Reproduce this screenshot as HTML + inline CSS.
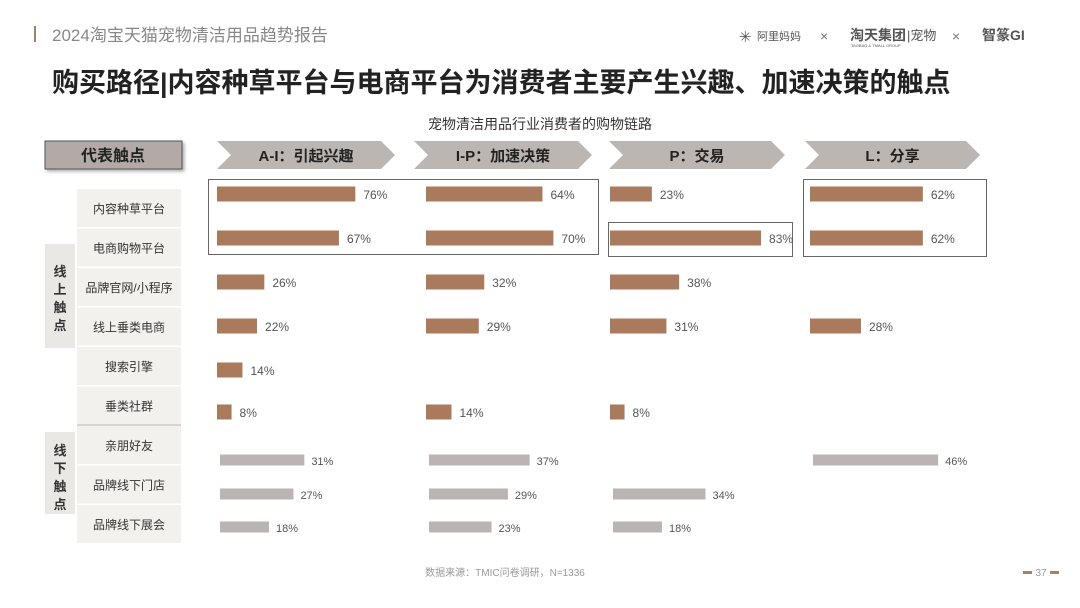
<!DOCTYPE html>
<html><head><meta charset="utf-8">
<style>
body{margin:0;background:#fff;}
svg{display:block;font-family:"Liberation Sans","Noto Sans CJK SC",sans-serif;}
</style></head>
<body>
<svg id="chart" width="1080" height="608" viewBox="0 0 1080 608">
  <defs>
    <filter id="sh" x="-10%" y="-20%" width="130%" height="160%"><feDropShadow dx="2" dy="2" stdDeviation="1.5" flood-color="#777" flood-opacity="0.6"/></filter>
  </defs>
  <rect x="34" y="26" width="2" height="16" fill="#a7806a"/>
  <text x="52" y="41" font-size="17" fill="#888">2024淘宝天猫宠物清洁用品趋势报告</text>
  <g fill="#555">
    <text x="739" y="42" font-size="15" fill="#555">✳</text>
    <text x="757" y="40" font-size="11">阿里妈妈</text>
    <text x="820" y="41" font-size="14" fill="#777">×</text>
    <text x="850" y="40" font-size="14" font-weight="bold">淘天集团</text>
    <text x="851" y="47" font-size="4">TAOBAO &amp; TMALL GROUP</text>
    <text x="907" y="40" font-size="13">|宠物</text>
    <text x="952" y="41" font-size="14" fill="#777">×</text>
    <text x="982" y="40" font-size="14" font-weight="bold">智篆GI</text>
  </g>
  <text x="52" y="92" font-size="27" font-weight="bold" fill="#222">购买路径|内容种草平台与电商平台为消费者主要产生兴趣、加速决策的触点</text>
  <text x="540" y="129" font-size="14" fill="#333" text-anchor="middle">宠物清洁用品行业消费者的购物链路</text>

  <rect x="45" y="141" width="137" height="28" fill="#b3aaa8" stroke="#555" stroke-width="1" filter="url(#sh)"/>
  <text x="113" y="161" font-size="16" font-weight="bold" fill="#222" text-anchor="middle">代表触点</text>

  <g id="side">
    <rect x="45" y="244" width="30" height="104" fill="#e9e8e5"/>
    <text font-size="13" font-weight="bold" fill="#333" text-anchor="middle"><tspan x="60" y="276">线</tspan><tspan x="60" y="294">上</tspan><tspan x="60" y="312">触</tspan><tspan x="60" y="330">点</tspan></text>
    <rect x="45" y="432" width="30" height="82" fill="#e9e8e5"/>
    <text font-size="13" font-weight="bold" fill="#333" text-anchor="middle"><tspan x="60" y="455">线</tspan><tspan x="60" y="473">下</tspan><tspan x="60" y="491">触</tspan><tspan x="60" y="509">点</tspan></text>
  </g>
  <g id="rowlabels"></g>
  <g id="stages"></g>
  <g fill="none" stroke="#666" stroke-width="1">
    <rect x="208.5" y="179.5" width="390" height="75"/>
    <rect x="608.5" y="222.5" width="184" height="34"/>
    <rect x="803.5" y="179.5" width="183" height="77"/>
  </g>
  <g id="bars"></g>
  <text x="505" y="576" font-size="10" fill="#999" text-anchor="middle">数据来源：TMIC问卷调研，N=1336</text>
  <rect x="1023" y="571" width="9" height="3" fill="#a7806a"/>
  <text x="1041" y="576" font-size="10" fill="#999" text-anchor="middle">37</text>
  <rect x="1050" y="571" width="9" height="3" fill="#a7806a"/>
</svg>
<script>
const touchpoints = ["内容种草平台","电商购物平台","品牌官网/小程序","线上垂类电商","搜索引擎","垂类社群","亲朋好友","品牌线下门店","品牌线下展会"];
const stages = ["A-I：引起兴趣","I-P：加速决策","P：交易","L：分享"];
const seriesAI = [76,67,26,22,14,8,31,27,18];
const seriesIP = [64,70,32,29,null,14,37,29,23];
const seriesP  = [23,83,38,31,null,8,null,34,18];
const seriesL  = [62,62,null,28,null,null,46,null,null];

const NS="http://www.w3.org/2000/svg";
function mk(tag,attrs,parent){const e=document.createElementNS(NS,tag);for(const k in attrs)e.setAttribute(k,attrs[k]);parent.appendChild(e);return e;}
const colX=[217,426,610,810];
const stageX=[[217,395],[414,592],[609,785],[805,980]];
const rowY=[194,238,282,326,370,412,460,494,527];
function xOnline(v){return v*1.82;}
function xOffline(v){return v*2.72;}

const rl=document.getElementById('rowlabels');
touchpoints.forEach((t,i)=>{
  const top=189+i*39.5;
  const r=mk('rect',{x:77,y:top,width:104,height:38,fill:'#f2f1ee'},rl);
  
  
  const tx=mk('text',{x:129,y:top+24,'font-size':12,fill:'#333','text-anchor':'middle'},rl);
  tx.textContent=t;
  
  
});
mk('rect',{x:77,y:189+6*39.5-2,width:104,height:2,fill:'#d8d4cf'},rl);

const sg=document.getElementById('stages');
stages.forEach((s,i)=>{
  const [a,b]=stageX[i];const y0=141,y1=169,m=(y0+y1)/2;
  const p=mk('polygon',{points:`${a},${y0} ${b-14},${y0} ${b},${m} ${b-14},${y1} ${a},${y1} ${a+14},${m}`,fill:'#bcb6b3'},sg);
  
  
  const t=mk('text',{x:(a+b)/2,y:161,'font-size':15,'font-weight':'bold',fill:'#222','text-anchor':'middle'},sg);
  t.textContent=s;
  
  
});

const bg=document.getElementById('bars');
[seriesAI,seriesIP,seriesP,seriesL].forEach((ser,c)=>{
  ser.forEach((v,i)=>{
    if(v==null)return;
    const online=i<6;
    const w=online?xOnline(v):xOffline(v);
    const h=online?15:11;
    const x0=colX[c]+(online?0:3);
    const r=mk('rect',{x:x0,y:rowY[i]-h/2,width:w,height:h,fill:online?'#a97a5c':'#bab5b3'},bg);
    
    
    const t=mk('text',{x:x0+w+(online?8:7),y:rowY[i]+5,'font-size':online?12:11,fill:'#555'},bg);
    t.textContent=v+'%';
    
    
  });
});
</script>
</body></html>
